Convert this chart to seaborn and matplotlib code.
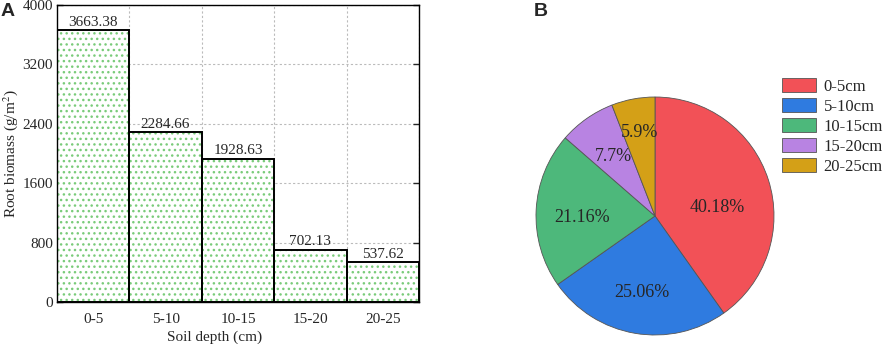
import matplotlib
matplotlib.use("Agg")
import matplotlib.pyplot as plt
import seaborn as sns
import pandas as pd
import numpy as np

depths = ["0-5", "5-10", "10-15", "15-20", "20-25"]
biomass = [3663.38, 2284.66, 1928.63, 702.13, 537.62]
bar_labels = ["3663.38", "2284.66", "1928.63", "702.13", "537.62"]
pie_labels = ["0-5cm", "5-10cm", "10-15cm", "15-20cm", "20-25cm"]
pie_pct = ["40.18%", "25.06%", "21.16%", "7.7%", "5.9%"]
pie_colors = ["#F25157", "#2F7BE0", "#4DB87B", "#B883E2", "#D4A017"]
yticks = [0, 800, 1600, 2400, 3200, 4000]

sns.set_theme(style="white")
plt.rcParams["font.family"] = ["Liberation Serif", "DejaVu Serif"]
plt.rcParams["mathtext.fontset"] = "stix"

fig = plt.figure(figsize=(8.86, 3.44), dpi=100)
ax = fig.add_axes([57/886, 1-302/344, (419-57)/886, (302-5)/344])

df = pd.DataFrame({"depth": depths, "biomass": biomass})
green = "#7ACB7A"
sns.barplot(data=df, x="depth", y="biomass", color="white", width=1.0,
            edgecolor=green, linewidth=0, hatch="...", ax=ax, zorder=2)
sns.barplot(data=df, x="depth", y="biomass", fill=False, width=1.0,
            edgecolor="black", linewidth=1.4, ax=ax, zorder=3)
ax.bar_label(ax.containers[0], labels=bar_labels, fontsize=11, padding=1)

ax.set_xlim(-0.5, 4.5)
ax.set_ylim(0, 4000)
ax.set_yticks(yticks)
ax.set_xticks(np.arange(len(depths)) + 0.5, minor=True)
ax.grid(False)
ax.yaxis.grid(True, which="major", linestyle=(0, (2, 2)), color="#BBBBBB", linewidth=0.8, zorder=0)
ax.xaxis.grid(True, which="minor", linestyle=(0, (2, 2)), color="#BBBBBB", linewidth=0.8, zorder=0)
ax.set_axisbelow(True)
ax.tick_params(axis="y", which="major", direction="in", length=4, width=1, left=True, right=True, labelsize=11, pad=3)
ax.tick_params(axis="x", which="both", length=0, labelsize=11, pad=8)
for s in ax.spines.values():
    s.set_color("black")
    s.set_linewidth(1.0)
ax.set_xlabel("Soil depth (cm)", fontsize=11)
ax.xaxis.set_label_coords(0.434, -0.095)
ax.set_ylabel("Root biomass (g/m$^2$)", fontsize=11, labelpad=2)

fig.text(1/886, 1-11/344, "A", fontsize=14, fontweight="bold", family="Liberation Sans", va="center", ha="left")
fig.text(534/886, 1-11/344, "B", fontsize=14, fontweight="bold", family="Liberation Sans", va="center", ha="left")

pax = fig.add_axes([536/886, 1-335/344, 238/886, 238/344])
wedges, texts, autotexts = pax.pie(biomass, colors=pie_colors, startangle=90, counterclock=False,
                                   autopct="%1.2f%%", pctdistance=0.6,
                                   wedgeprops=dict(edgecolor="#555555", linewidth=0.6),
                                   textprops=dict(fontsize=13))
dist = [0.525, 0.65, 0.61, 0.61, 0.71]
ang_shift = [-9.4, 0.0, 4.4, 0.0, 0.0]
for t, lab, w, d, sh in zip(autotexts, pie_pct, wedges, dist, ang_shift):
    t.set_text(lab)
    ang = np.deg2rad((w.theta1 + w.theta2) / 2 + sh)
    t.set_position((d * np.cos(ang), d * np.sin(ang)))
pax.set_xlim(-1, 1)
pax.set_ylim(-1, 1)
pax.set_aspect("equal")

fig.legend(wedges, pie_labels, loc="upper left", bbox_to_anchor=(782/886, 1-78/344),
           frameon=False, fontsize=12, handlelength=2.05, handleheight=0.9,
           labelspacing=0.2, handletextpad=0.45, borderpad=0, borderaxespad=0)

fig.savefig("out.png", dpi=100)
